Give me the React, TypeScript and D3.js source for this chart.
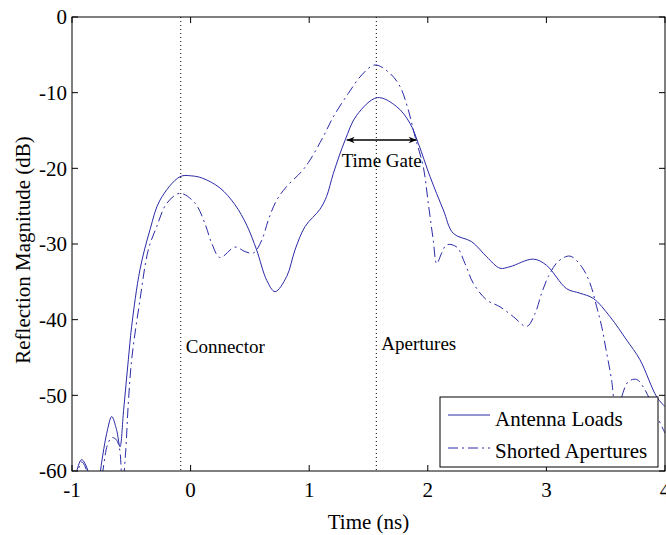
import React from 'react';
import * as d3 from 'd3';

// [time (ns), magnitude (dB)]
const antennaLoads: [number, number][] = [
  [-1, -64], [-0.96, -60], [-0.918, -58.5], [-0.865, -60], [-0.8, -66], [-0.76, -60],
  [-0.7, -54.5], [-0.665, -52.8], [-0.625, -54.5], [-0.595, -56.8], [-0.565, -52],
  [-0.525, -45.3], [-0.497, -40.9], [-0.427, -33.4], [-0.342, -28.1], [-0.258, -24.2],
  [-0.089, -21.1], [0.009, -21.0], [0.1, -21.3], [0.248, -22.6], [0.374, -24.8],
  [0.473, -27.5], [0.557, -30.8], [0.642, -34.8], [0.712, -36.3], [0.81, -34.3],
  [0.88, -30.8], [0.965, -27.7], [1.091, -25.4], [1.147, -23.7], [1.203, -20.7],
  [1.302, -16.3], [1.4, -13.0], [1.574, -10.66], [1.738, -11.85], [1.85, -14.05],
  [1.92, -16.7], [2.019, -21.1], [2.131, -25.5], [2.215, -28.6], [2.37, -29.7],
  [2.497, -31.7], [2.609, -33.2], [2.693, -33.0], [2.89, -32.0], [3.0, -32.8],
  [3.17, -35.9], [3.283, -36.5], [3.396, -37.2], [3.536, -39.6], [3.677, -42.7],
  [3.789, -45.3], [3.93, -50.2], [4.0, -51.5],
];

const shortedApertures: [number, number][] = [
  [-1, -64], [-0.95, -60], [-0.918, -58.8], [-0.875, -60], [-0.8, -66], [-0.74, -60],
  [-0.7, -56.5], [-0.665, -55.6], [-0.63, -55.8], [-0.6, -57], [-0.575, -62], [-0.55, -58],
  [-0.525, -51], [-0.497, -45.3], [-0.427, -37.4], [-0.357, -30.8], [-0.286, -27.7],
  [-0.2, -24.6], [-0.089, -23.3], [0.037, -24.6], [0.121, -27.3], [0.178, -29.9],
  [0.248, -31.8], [0.374, -30.4], [0.459, -31.0], [0.529, -31.2], [0.6, -29.5],
  [0.656, -26.8], [0.726, -24.2], [0.81, -22.4], [0.937, -20.4], [1.007, -18.9],
  [1.119, -15.8], [1.203, -13.2], [1.33, -10.1], [1.443, -7.66], [1.555, -6.34],
  [1.681, -7.45], [1.766, -9.2], [1.836, -12.3], [1.892, -15.8], [1.962, -19.8],
  [2.004, -24.6], [2.046, -29.5], [2.075, -32.6], [2.117, -31.2], [2.159, -30.1],
  [2.244, -30.4], [2.314, -32.6], [2.384, -35.2], [2.497, -37.4], [2.609, -38.3],
  [2.721, -39.6], [2.834, -40.9], [2.904, -39.2], [2.96, -36.5], [3.016, -34.3],
  [3.1, -32.3], [3.199, -31.6], [3.297, -33.0], [3.368, -35.2], [3.424, -38.3],
  [3.466, -40.9], [3.508, -44.4], [3.55, -48.0], [3.59, -53], [3.635, -50.2],
  [3.69, -48.2], [3.761, -47.9], [3.817, -48.9], [3.873, -50.6], [3.94, -53], [4.0, -55],
];

const xTicks = [-1, 0, 1, 2, 3, 4];
const yTicks = [0, -10, -20, -30, -40, -50, -60];

const markers = [
  { t: -0.083, label: 'Connector', labelDb: -44.4 },
  { t: 1.566, label: 'Apertures', labelDb: -44.0 },
];
const timeGate = { from: 1.316, to: 1.906, db: -16.25, label: 'Time Gate' };

const W = 666, H = 535;
const left = 72, top = 17, right = 665, bottom = 471;
const blue = '#2a2aa8';
const font = '"Liberation Serif", "Times New Roman", serif';

export default function App() {
  const x = d3.scaleLinear().domain([-1, 4]).range([left, right]);
  const y = d3.scaleLinear().domain([-60, 0]).range([bottom, top]);
  const line = d3.line<[number, number]>()
    .x(d => x(d[0])).y(d => y(d[1]))
    .curve(d3.curveCatmullRom.alpha(0.5));

  const tickLen = 6;
  const legX = 440, legY = 397, legW = 218, legH = 70;

  return (
    <svg width={W} height={H} style={{ position: 'absolute', left: 0, top: 0, background: '#fff' }}
      fontFamily={font}>
      <defs>
        <clipPath id="plot">
          <rect x={left} y={top} width={right - left} height={bottom - top} />
        </clipPath>
        <marker id="ah" viewBox="0 0 10 10" refX="10" refY="5" markerWidth="10" markerHeight="8"
          markerUnits="userSpaceOnUse" orient="auto-start-reverse">
          <path d="M0,1 L10,5 L0,9 L3,5 Z" fill="#000" />
        </marker>
      </defs>

      {markers.map(m => (
        <line key={m.label} x1={x(m.t)} x2={x(m.t)} y1={top} y2={bottom}
          stroke="#000" strokeWidth={1} strokeDasharray="1,3" />
      ))}

      <g clipPath="url(#plot)" fill="none" stroke={blue} strokeWidth={1}>
        <path d={line(antennaLoads) ?? ''} />
        <path d={line(shortedApertures) ?? ''} strokeDasharray="10,4,2,4" />
      </g>

      {/* axes box and ticks */}
      <rect x={left} y={top} width={right - left} height={bottom - top} fill="none" stroke="#000" strokeWidth={1} />
      {xTicks.map(t => (
        <g key={'x' + t}>
          <line x1={x(t)} x2={x(t)} y1={bottom} y2={bottom - tickLen} stroke="#000" />
          <line x1={x(t)} x2={x(t)} y1={top} y2={top + tickLen} stroke="#000" />
          <text x={x(t)} y={497} fontSize={21} textAnchor="middle">{t < 0 ? '-' + Math.abs(t) : t}</text>
        </g>
      ))}
      {yTicks.map(v => (
        <g key={'y' + v}>
          <line x1={left} x2={left + tickLen} y1={y(v)} y2={y(v)} stroke="#000" />
          <line x1={right} x2={right - tickLen} y1={y(v)} y2={y(v)} stroke="#000" />
          <text x={67} y={y(v)} dy="0.35em" fontSize={21} textAnchor="end">{v < 0 ? '-' + Math.abs(v) : v}</text>
        </g>
      ))}

      <text x={(left + right) / 2} y={529} fontSize={21} textAnchor="middle">Time (ns)</text>
      <text transform={`translate(30, ${(top + bottom) / 2 + 6}) rotate(-90)`} fontSize={21} textAnchor="middle">
        Reflection Magnitude (dB)
      </text>

      {/* annotations */}
      {markers.map(m => (
        <text key={'l' + m.label} x={x(m.t) + 5} y={y(m.labelDb)} fontSize={19}>{m.label}</text>
      ))}
      <line x1={x(timeGate.from)} x2={x(timeGate.to)} y1={y(timeGate.db)} y2={y(timeGate.db)}
        stroke="#000" strokeWidth={1.5} markerStart="url(#ah)" markerEnd="url(#ah)" />
      <text x={(x(timeGate.from) + x(timeGate.to)) / 2} y={y(timeGate.db) + 27} fontSize={19} textAnchor="middle">
        {timeGate.label}
      </text>

      {/* legend */}
      <rect x={legX} y={legY} width={legW} height={legH} fill="#fff" stroke="#000" strokeWidth={1} />
      <line x1={legX + 8} x2={legX + 50} y1={legY + 18} y2={legY + 18} stroke={blue} />
      <line x1={legX + 8} x2={legX + 50} y1={legY + 51} y2={legY + 51} stroke={blue} strokeDasharray="10,4,2,4" />
      <text x={legX + 55} y={legY + 29} fontSize={21}>Antenna Loads</text>
      <text x={legX + 55} y={legY + 61} fontSize={21}>Shorted Apertures</text>
    </svg>
  );
}
